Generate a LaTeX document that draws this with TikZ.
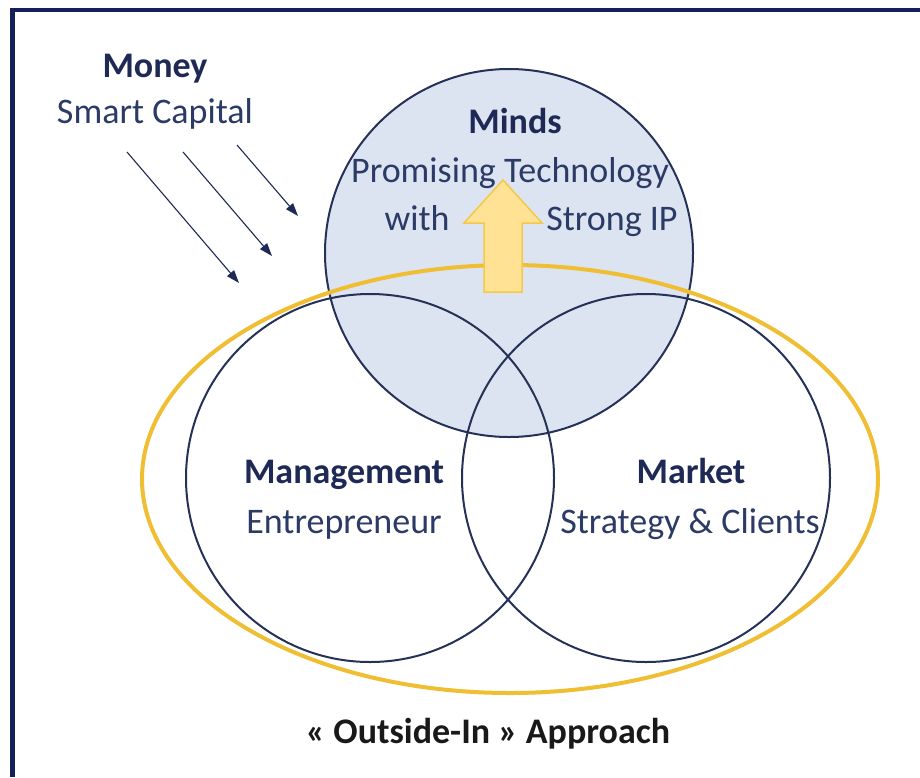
\documentclass[tikz,border=0pt]{standalone}
\usepackage{fontspec}
\setmainfont{Carlito}
\usetikzlibrary{arrows.meta,shapes.geometric}

\definecolor{navyhead}{HTML}{1E2A55}
\definecolor{navytext}{HTML}{2C3A66}
\definecolor{ringline}{HTML}{263158}
\definecolor{mindsfill}{HTML}{DCE4F2}
\definecolor{gold}{HTML}{F0BE32}
\definecolor{arrowfill}{HTML}{FFE294}
\definecolor{arrowedge}{HTML}{F5C84A}
\definecolor{frame}{HTML}{14205C}

\tikzset{
  ring/.style={circle, draw=ringline, line width=2pt, inner sep=0pt,
               minimum size=368pt},
  oval/.style={ellipse, draw=gold, line width=4pt, inner sep=0pt,
               minimum width=736pt, minimum height=428pt},
  head/.style={anchor=base, font=\fontsize{36}{43}\selectfont\bfseries,
               text=navyhead, inner sep=0pt},
  sub/.style={anchor=base, font=\fontsize{36}{43}\selectfont,
              text=navytext, inner sep=0pt},
  caption/.style={anchor=base, font=\fontsize{36}{43}\selectfont\bfseries,
                  text=black!90, inner sep=0pt},
  moneyarrow/.style={draw=navyhead, line width=1.1pt,
                     -{Triangle[length=13pt,width=9pt]}},
  blockarrow/.style={fill=arrowfill, draw=arrowedge, line width=1.5pt,
                     line join=miter},
  frameline/.style={draw=frame, line width=4.5pt, line join=miter}
}

\begin{document}
\begin{tikzpicture}[x=1pt, y=-1pt]
  \useasboundingbox (0,0) rectangle (920,777);
  \fill[white] (0,0) rectangle (920,777);

  % frame along the top and left edges
  \draw[frameline] (12.5,777) -- (12.5,10) -- (920,10);

  % the three circles
  \node[ring, fill=mindsfill] (minds) at (509,253) {};
  \node[ring] (mgmt) at (370,478) {};
  \node[ring] (market) at (646,478) {};

  % the outer ellipse
  \node[oval] (outside) at (510,479) {};

  % upward block arrow
  \draw[blockarrow] (503,180) -- (542,223) -- (522,223) -- (522,292)
        -- (484,292) -- (484,223) -- (464,223) -- cycle;

  % money arrows
  \coordinate (m1s) at (127,152); \coordinate (m1e) at (239,283);
  \coordinate (m2s) at (183,152); \coordinate (m2e) at (272,256);
  \coordinate (m3s) at (237,145); \coordinate (m3e) at (298,216);
  \draw[moneyarrow] (m1s) -- (m1e);
  \draw[moneyarrow] (m2s) -- (m2e);
  \draw[moneyarrow] (m3s) -- (m3e);

  % labels
  \node[head] (money) at (155,77) {Money};
  \node[sub] (capital) at (155,123) {Smart Capital};

  \node[head] (mindsT) at (515,133) {Minds};
  \node[sub] (techT) at (510,182) {Promising Technology};
  \node[sub] (withT) at (417,230) {with};
  \node[sub] (ipT) at (612,230) {Strong IP};

  \node[head] (mgmtT) at (344,483) {Management};
  \node[sub] (entT) at (344,533) {Entrepreneur};

  \node[head] (marketT) at (691,483) {Market};
  \node[sub] (clientT) at (690,533) {Strategy \& Clients};

  \node[caption] (approach) at (488,743) {« Outside-In » Approach};
\end{tikzpicture}
\end{document}
